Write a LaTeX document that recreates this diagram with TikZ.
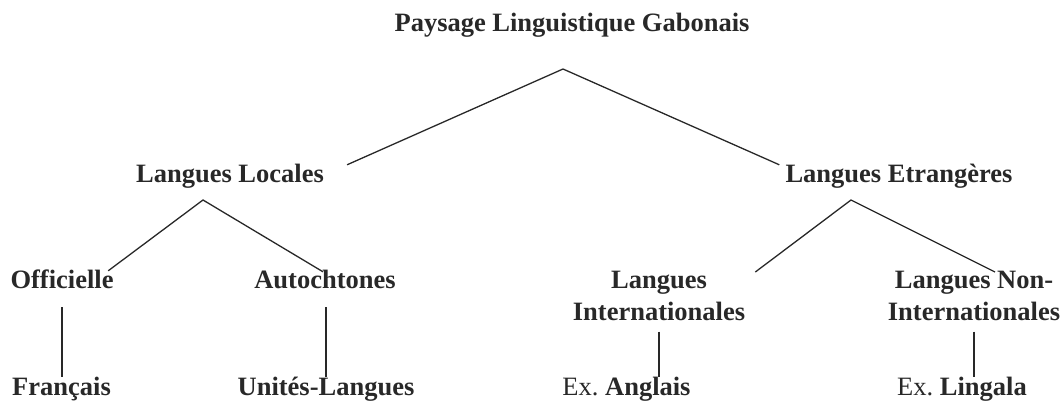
\documentclass[tikz,border=0pt]{standalone}
\usepackage{fontspec}
\setmainfont{Liberation Serif}
\usetikzlibrary{calc}
\definecolor{ink}{RGB}{40,40,40}
\tikzset{
  lbl/.style={inner sep=0pt, text=ink, font=\fontsize{26.5}{32}\selectfont\bfseries},
  one/.style={lbl, anchor=base, text height=18pt, text depth=6pt},
  two/.style={lbl, anchor=north, align=center},
  link/.style={draw=ink, line width=1.3pt}
}
\begin{document}
\begin{tikzpicture}[x=1pt, y=-1pt]
\useasboundingbox (0,0) rectangle (1064,401);
% nodes
\node[one] (title) at (572,32) {Paysage Linguistique Gabonais};
\node[one] (ll) at (230,182) {Langues Locales};
\node[one] (le) at (899,182) {Langues Etrang\`eres};
\node[one] (off) at (62,288) {Officielle};
\node[one] (aut) at (325,288) {Autochtones};
\node[two] (li) at (659,270.5) {Langues\\Internationales};
\node[two] (nli) at (974,270.5) {Langues Non-\\Internationales};
\node[one] (fr) at (61.5,395) {Fran\c cais};
\node[one] (uni) at (326,395) {Unit\'es-Langues};
\node[one] (ang) at (626.5,395) {{\mdseries Ex.\ }Anglais};
\node[one] (lin) at (962,395) {{\mdseries Ex.\ }Lingala};
% branch points
\coordinate (a0) at (563,69);
\coordinate (a1) at (203,200);
\coordinate (a2) at (851,200);
% connectors
\draw[link] ($(ll.north east)+(23,1)$) -- (a0) -- ($(le.north west)+(-6,1)$);
\draw[link] ($(off.north east)+(-5.5,1)$) -- (a1) -- ($(aut.north)+(-2,2)$);
\draw[link] ($(li.north east)+(10,1.5)$) -- (a2) -- ($(nli.north)+(21,1.5)$);
\draw[link] ($(off.south)+(0,13)$) -- (off.south |- fr.north);
\draw[link] ($(aut.south)+(1,13)$) -- ($(aut.south |- uni.north)+(1,0)$);
\draw[link] ($(li.south)+(0,11)$) -- (li.south |- ang.north);
\draw[link] ($(nli.south)+(0,11)$) -- (nli.south |- lin.north);
\end{tikzpicture}
\end{document}
